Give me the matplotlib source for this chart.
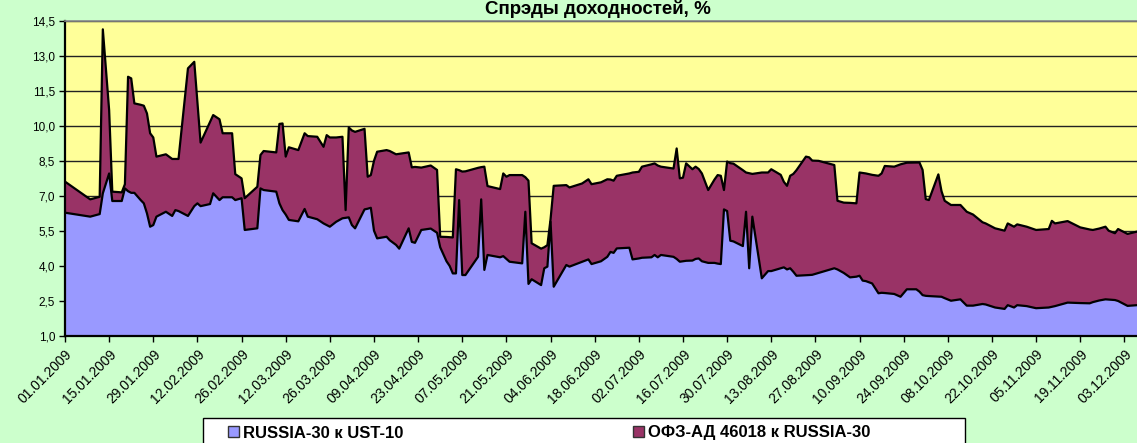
import datetime
import numpy as np
import matplotlib
matplotlib.use('Agg')
import matplotlib.pyplot as plt
import matplotlib.dates as mdates
import matplotlib.transforms as mtransforms
from matplotlib.patches import Rectangle, Patch

# ---------------- data ----------------
day_offsets = [0, 8, 11, 12, 14, 15, 18, 19, 20, 21, 22, 24, 25, 26, 27, 28, 29, 32, 34, 35,
               36, 39, 41, 42, 43, 46, 47, 49, 50, 53, 54, 56, 57, 61, 62, 63, 67, 68, 69, 70,
               71, 74, 76, 77, 80, 82, 83, 84, 86, 88, 89, 90, 91, 92, 95, 96, 97, 98, 99, 102,
               103, 104, 105, 106, 109, 110, 111, 113, 116, 118, 119, 121, 122, 123, 124, 125, 126, 127, 131, 132,
               133, 134, 138, 139, 140, 141, 145, 146, 147, 148, 151, 152, 153, 154, 155, 159, 160, 164, 166, 167,
               170, 172, 173, 174, 175, 179, 180, 182, 183, 186, 187, 188, 189, 193, 194, 195, 196, 197, 199, 200,
               201, 202, 204, 206, 207, 208, 209, 210, 211, 212, 215, 216, 217, 218, 221, 223, 224, 227, 228, 229,
               230, 231, 232, 235, 236, 237, 239, 244, 245, 247, 249, 251, 252, 253, 254, 256, 258, 259, 260, 263,
               265, 267, 270, 271, 272, 273, 274, 277, 278, 279, 281, 284, 286, 288, 291, 292, 295, 298, 299, 301,
               302, 305, 308, 312, 313, 314, 318, 322, 325, 326, 328, 330, 331, 333, 334, 337, 340]

ru30_ust10 = [6.28, 6.11, 6.22, 7.11, 7.96, 6.78, 6.78, 7.32, 7.20, 7.13, 7.13, 6.82, 6.68, 6.25, 5.68, 5.75, 6.11, 6.32, 6.14, 6.39,
              6.35, 6.14, 6.56, 6.68, 6.56, 6.65, 7.11, 6.82, 6.94, 6.94, 6.82, 6.90, 5.54, 5.61, 7.32, 7.25, 7.18, 6.68, 6.39, 6.20,
              5.97, 5.91, 6.44, 6.11, 6.00, 5.82, 5.75, 5.68, 5.89, 6.04, 6.06, 6.08, 5.75, 5.61, 6.42, 6.45, 6.49, 5.51, 5.18, 5.25,
              5.10, 5.00, 4.90, 4.74, 5.61, 5.03, 4.99, 5.54, 5.60, 5.42, 4.80, 4.20, 4.00, 3.68, 3.68, 6.82, 3.61, 3.61, 4.39, 6.85,
              3.83, 4.47, 4.37, 4.42, 4.30, 4.18, 4.11, 6.32, 3.23, 3.43, 3.18, 3.90, 3.97, 5.89, 3.11, 4.04, 3.97, 4.18, 4.28, 4.08,
              4.20, 4.39, 4.60, 4.56, 4.75, 4.78, 4.28, 4.32, 4.35, 4.37, 4.47, 4.37, 4.47, 4.39, 4.30, 4.18, 4.20, 4.22, 4.23, 4.30,
              4.32, 4.20, 4.13, 4.13, 4.10, 4.08, 6.42, 6.35, 5.08, 5.05, 4.85, 6.32, 3.90, 6.11, 3.47, 3.78, 3.78, 3.90, 3.94, 3.85,
              3.90, 3.75, 3.58, 3.60, 3.61, 3.62, 3.70, 3.90, 3.85, 3.70, 3.51, 3.54, 3.58, 3.37, 3.35, 3.25, 2.83, 2.85, 2.84, 2.80,
              2.68, 3.00, 3.00, 2.90, 2.75, 2.72, 2.71, 2.69, 2.68, 2.62, 2.51, 2.57, 2.30, 2.30, 2.37, 2.35, 2.22, 2.16, 2.32, 2.22,
              2.32, 2.28, 2.19, 2.22, 2.25, 2.28, 2.43, 2.41, 2.40, 2.45, 2.52, 2.57, 2.56, 2.54, 2.50, 2.29, 2.32]

ofz_ru30 = [1.33, 0.74, 0.74, 7.02, 2.71, 0.40, 0.37, 0.18, 4.90, 4.90, 3.83, 4.08, 4.18, 4.28, 4.00, 3.75, 2.57, 2.46, 2.44, 2.19,
            2.23, 6.32, 6.18, 4.32, 2.72, 3.52, 3.35, 3.46, 2.74, 2.74, 1.11, 0.85, 1.36, 1.78, 1.43, 1.67, 1.68, 3.40, 3.71, 2.48,
            3.11, 3.05, 3.24, 3.45, 3.53, 3.28, 3.85, 3.82, 3.61, 3.49, 0.33, 3.85, 4.05, 4.13, 3.45, 1.37, 1.40, 2.99, 3.71, 3.71,
            3.82, 3.85, 3.88, 4.06, 3.25, 3.19, 3.25, 2.67, 2.70, 2.69, 0.45, 1.04, 1.23, 1.54, 4.46, 1.28, 4.43, 4.44, 3.81, 1.38,
            4.42, 2.95, 2.92, 3.54, 3.52, 3.71, 3.78, 1.48, 4.42, 1.54, 1.56, 0.90, 0.92, 0.11, 4.32, 3.42, 3.39, 3.35, 3.43, 3.42,
            3.38, 3.32, 3.10, 3.09, 3.11, 3.18, 3.72, 3.71, 3.90, 3.98, 3.92, 3.93, 3.78, 3.78, 4.73, 3.57, 3.58, 4.17, 3.91, 3.95,
            3.83, 3.76, 3.12, 3.57, 3.79, 3.78, 0.83, 2.12, 3.32, 3.33, 3.25, 1.68, 4.07, 1.83, 4.53, 4.22, 4.36, 4.00, 3.66, 3.58,
            3.96, 4.19, 4.52, 5.08, 5.04, 4.89, 4.80, 4.42, 2.94, 3.01, 3.19, 3.14, 4.42, 4.61, 4.61, 4.65, 5.03, 5.11, 5.44, 5.45,
            5.67, 5.42, 5.43, 5.53, 5.36, 4.14, 4.11, 5.23, 4.52, 4.17, 4.10, 4.04, 4.02, 3.90, 3.50, 3.47, 3.39, 3.35, 3.50, 3.46,
            3.46, 3.40, 3.35, 3.36, 3.68, 3.54, 3.49, 3.24, 3.16, 3.09, 3.08, 3.11, 2.95, 2.86, 3.08, 3.08, 3.15]

series_labels = ['RUSSIA-30 к UST-10', 'ОФЗ-АД 46018 к RUSSIA-30']
series_colors = ['#9999FF', '#993366']
chart_title = 'Спрэды доходностей, %'
y_ticks = [1.0, 2.5, 4.0, 5.5, 7.0, 8.5, 10.0, 11.5, 13.0, 14.5]
x_tick_days = list(range(0, 338, 14))
start_date = datetime.date(2009, 1, 1)
last_day_shown = 340

# ---------------- figure ----------------
plt.rcParams['font.family'] = ['Liberation Sans', 'DejaVu Sans']

W, H = 1137, 443
fig = plt.figure(figsize=(W / 100, H / 100), dpi=100, facecolor='#CCFFCC')


def fx(px):
    return px / W


def fy(py):
    return 1 - py / H


ax = fig.add_axes([fx(65), fy(336), fx(1137) - fx(65), fy(20.7) - fy(336)])
ax.set_facecolor('#FFFF99')

dates = [start_date + datetime.timedelta(days=d) for d in day_offsets]
x = mdates.date2num(dates)
bottom = np.array(ru30_ust10)
spread = np.array(ofz_ru30)

ax.stackplot(x, bottom, spread, colors=series_colors, linewidth=0, zorder=2)
ax.plot(x, bottom, color='black', lw=1.6, zorder=3)
ax.plot(x, bottom + spread, color='black', lw=1.6, zorder=3)

ax.set_xlim(mdates.date2num(start_date),
            mdates.date2num(start_date + datetime.timedelta(days=last_day_shown)))
ax.set_ylim(y_ticks[0], y_ticks[-1])

ax.set_yticks(y_ticks)
ax.set_yticklabels([f'{v:.1f}'.replace('.', ',') for v in y_ticks])
tick_dates = [start_date + datetime.timedelta(days=d) for d in x_tick_days]
ax.set_xticks(mdates.date2num(tick_dates))
ax.set_xticklabels([d.strftime('%d.%m.%Y') for d in tick_dates],
                   rotation=45, ha='right', rotation_mode='anchor')
shift = mtransforms.ScaledTranslation(-4 / 100, -1 / 100, fig.dpi_scale_trans)
for lbl in ax.get_xticklabels():
    lbl.set_transform(lbl.get_transform() + shift)

ax.yaxis.grid(True, color='#222222', lw=1.0)
ax.set_axisbelow(True)
ax.tick_params(axis='both', direction='out', length=4, width=1, color='black',
               labelcolor='black')
ax.tick_params(axis='x', pad=4, labelsize=10)
ax.tick_params(axis='y', pad=3, labelsize=8.5)

for side in ('left', 'bottom'):
    ax.spines[side].set_color('black')
    ax.spines[side].set_linewidth(1.6)
ax.spines['top'].set_color('#888888')
ax.spines['top'].set_linewidth(1.2)
ax.spines['right'].set_visible(False)

fig.text(fx(597.5), fy(14.2), chart_title, ha='center', va='baseline',
         fontsize=13.5, fontweight='bold')

# legend frame
fig.patches.append(Rectangle((fx(203), fy(460)), fx(965) - fx(203), fy(418) - fy(460),
                             transform=fig.transFigure, facecolor='white',
                             edgecolor='black', lw=1.0, zorder=1))
handles = [Patch(facecolor=c, edgecolor='#333333', lw=1.0) for c in series_colors]
fig.legend(handles, series_labels, ncol=2, loc='center left',
           bbox_to_anchor=(fx(228), fy(433)), frameon=False,
           prop={'weight': 'bold', 'size': 12},
           handlelength=0.65, handleheight=0.65, handletextpad=0.25,
           columnspacing=13.8, borderpad=0, borderaxespad=0)

fig.savefig('out.png', dpi=100, facecolor=fig.get_facecolor())
